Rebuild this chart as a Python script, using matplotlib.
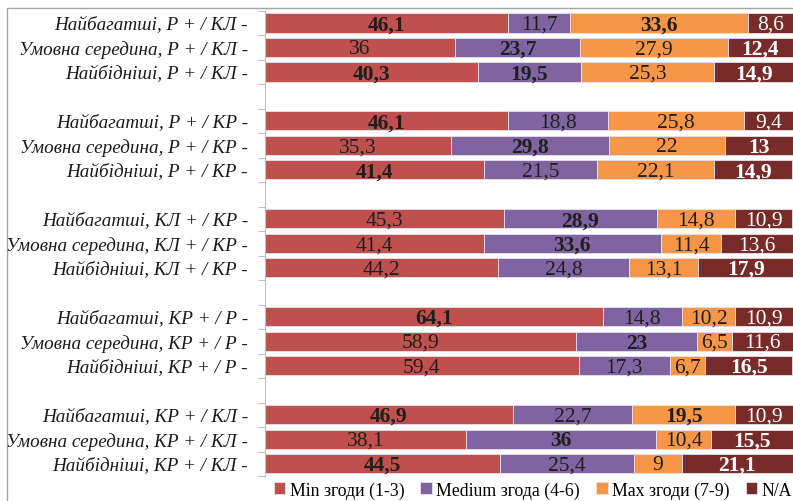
import numpy as np
import matplotlib.pyplot as plt
from matplotlib.patches import Rectangle

plt.rcParams['font.family'] = ['Liberation Serif', 'DejaVu Serif']

groups = ['Р + / КЛ', 'Р + / КР', 'КЛ + / КР', 'КР + / Р', 'КР + / КЛ']
strata = ['Найбагатші', 'Умовна середина', 'Найбідніші']

series = ['Min згоди (1-3)', 'Medium згода (4-6)', 'Max згоди (7-9)', 'N/A']
min_vals = [46.1, 36, 40.3, 46.1, 35.3, 41.4, 45.3, 41.4, 44.2, 64.1, 58.9, 59.4, 46.9, 38.1, 44.5]
med_vals = [11.7, 23.7, 19.5, 18.8, 29.8, 21.5, 28.9, 33.6, 24.8, 14.8, 23, 17.3, 22.7, 36, 25.4]
max_vals = [33.6, 27.9, 25.3, 25.8, 22, 22.1, 14.8, 11.4, 13.1, 10.2, 6.5, 6.7, 19.5, 10.4, 9]
na_vals = [8.6, 12.4, 14.9, 9.4, 13, 14.9, 10.9, 13.6, 17.9, 10.9, 11.6, 16.5, 10.9, 15.5, 21.1]

# which value labels are bold in the source (1 = bold)
min_bold = [1, 0, 1, 1, 0, 1, 0, 0, 0, 1, 0, 0, 1, 0, 1]
med_bold = [0, 1, 1, 0, 1, 0, 1, 1, 0, 0, 1, 0, 0, 1, 0]
max_bold = [1, 0, 0, 0, 0, 0, 0, 0, 0, 0, 0, 0, 1, 0, 0]
na_bold = [0, 1, 1, 0, 1, 1, 0, 0, 1, 0, 0, 1, 0, 1, 1]

colors = ['#C0504D', '#8064A2', '#F79646', '#772C2A']
text_colors = ['#1f1f1f', '#1f1f1f', '#1f1f1f', 'white']

labels = [f'{s}, {g} -' for g in groups for s in strata]
ypos = np.array([gi * 4 + si for gi in range(len(groups)) for si in range(len(strata))])

fig = plt.figure(figsize=(7.93, 5.02), dpi=100)
ax = fig.add_axes([0.334, 0.0498, 0.666, 0.9268])

all_vals = [min_vals, med_vals, max_vals, na_vals]
all_bold = [min_bold, med_bold, max_bold, na_bold]
left = np.zeros(len(labels))
for vals, bold, c, tc, name in zip(all_vals, all_bold, colors, text_colors, series):
    vals = np.array(vals, dtype=float)
    ax.barh(ypos, vals, left=left, height=0.78, color=c, edgecolor='#E6E0EC',
            linewidth=0.6, label=name)
    for y, l, v, b in zip(ypos, left, vals, bold):
        txt = f'{v:g}'.replace('.', ',')
        ax.text(l + v / 2, y + 0.05, txt, ha='center', va='center', fontsize=15.5,
                color=tc, fontweight='bold' if b else 'normal')
    left += vals

ax.set_xlim(0, 100)
ax.set_ylim(ypos.max() + 0.5, -0.5)
ax.set_yticks(ypos)
ax.set_yticklabels(labels, fontsize=13.8, style='italic', color='#1a1a1a')
ax.tick_params(axis='y', which='major', length=0, pad=12)
ax.set_yticks(np.arange(-0.5, ypos.max() + 1, 1), minor=True)
ax.tick_params(axis='y', which='minor', length=5, color='#BFBFBF', width=0.8)
ax.set_xticks([])
for s in ['top', 'right', 'bottom']:
    ax.spines[s].set_visible(False)
ax.spines['left'].set_color('#BFBFBF')
ax.spines['left'].set_linewidth(0.8)

fig.legend(loc='center', bbox_to_anchor=(0.672, 0.022), ncol=4, frameon=False,
           fontsize=12.8, handlelength=0.65, handleheight=0.65, handletextpad=0.25,
           columnspacing=0.9, borderaxespad=0)

# outer chart frame (cut off at the right and bottom in the source)
fig.patches.append(Rectangle((7 / 793, -0.1), 1.2, 1 - 9 / 502 + 0.1,
                             transform=fig.transFigure, fill=False,
                             edgecolor='#A6A6A6', linewidth=1.0, zorder=-1))

fig.savefig('out.png', dpi=100)
